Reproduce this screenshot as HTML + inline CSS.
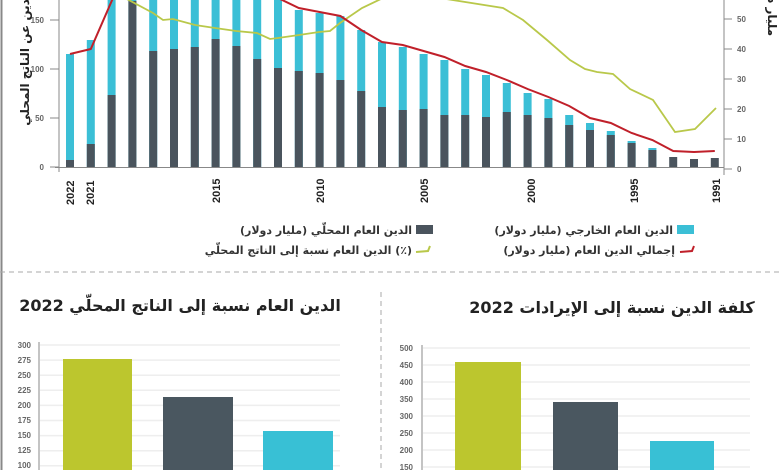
<!DOCTYPE html>
<html><head><meta charset="utf-8"><style>
html,body{margin:0;padding:0;background:#fff;}
svg{display:block;font-family:"Liberation Sans","DejaVu Sans",sans-serif;}
.t{font-size:8px;fill:#666;font-weight:bold;}
.y{font-size:11px;font-weight:bold;fill:#222;}
.ar{font-family:"DejaVu Sans","Noto Sans CJK SC",sans-serif;}
</style></head><body>
<svg width="780" height="470" viewBox="0 0 780 470" xmlns="http://www.w3.org/2000/svg">
<line x1="1.5" y1="0" x2="1.5" y2="470" stroke="#888" stroke-width="2"/>
<g fill="#3bbfd6">
<rect x="66" y="54" width="8" height="113"/>
<rect x="86.8" y="40" width="8" height="127"/>
<rect x="107.6" y="0" width="8" height="167"/>
<rect x="128.4" y="0" width="8" height="167"/>
<rect x="149.2" y="0" width="8" height="167"/>
<rect x="170" y="0" width="8" height="167"/>
<rect x="190.8" y="0" width="8" height="167"/>
<rect x="211.6" y="0" width="8" height="167"/>
<rect x="232.4" y="0" width="8" height="167"/>
<rect x="253.2" y="0" width="8" height="167"/>
<rect x="274" y="0" width="8" height="167"/>
<rect x="294.8" y="10" width="8" height="157"/>
<rect x="315.6" y="13" width="8" height="154"/>
<rect x="336.4" y="16" width="8" height="151"/>
<rect x="357.2" y="30" width="8" height="137"/>
<rect x="378" y="42" width="8" height="125"/>
<rect x="398.8" y="47" width="8" height="120"/>
<rect x="419.6" y="54" width="8" height="113"/>
<rect x="440.4" y="60" width="8" height="107"/>
<rect x="461.2" y="69" width="8" height="98"/>
<rect x="482" y="75" width="8" height="92"/>
<rect x="502.8" y="83" width="8" height="84"/>
<rect x="523.6" y="93" width="8" height="74"/>
<rect x="544.4" y="99" width="8" height="68"/>
<rect x="565.2" y="115" width="8" height="52"/>
<rect x="586" y="123" width="8" height="44"/>
<rect x="606.8" y="131" width="8" height="36"/>
<rect x="627.6" y="141" width="8" height="26"/>
<rect x="648.4" y="148" width="8" height="19"/>
</g>
<g fill="#4a545d">
<rect x="66" y="160" width="8" height="7"/>
<rect x="86.8" y="144" width="8" height="23"/>
<rect x="107.6" y="95" width="8" height="72"/>
<rect x="128.4" y="1" width="8" height="166"/>
<rect x="149.2" y="51" width="8" height="116"/>
<rect x="170" y="49" width="8" height="118"/>
<rect x="190.8" y="47" width="8" height="120"/>
<rect x="211.6" y="39" width="8" height="128"/>
<rect x="232.4" y="46" width="8" height="121"/>
<rect x="253.2" y="59" width="8" height="108"/>
<rect x="274" y="68" width="8" height="99"/>
<rect x="294.8" y="71" width="8" height="96"/>
<rect x="315.6" y="73" width="8" height="94"/>
<rect x="336.4" y="80" width="8" height="87"/>
<rect x="357.2" y="91" width="8" height="76"/>
<rect x="378" y="107" width="8" height="60"/>
<rect x="398.8" y="110" width="8" height="57"/>
<rect x="419.6" y="109" width="8" height="58"/>
<rect x="440.4" y="115" width="8" height="52"/>
<rect x="461.2" y="115" width="8" height="52"/>
<rect x="482" y="117" width="8" height="50"/>
<rect x="502.8" y="112" width="8" height="55"/>
<rect x="523.6" y="115" width="8" height="52"/>
<rect x="544.4" y="118" width="8" height="49"/>
<rect x="565.2" y="125" width="8" height="42"/>
<rect x="586" y="130" width="8" height="37"/>
<rect x="606.8" y="135" width="8" height="32"/>
<rect x="627.6" y="143" width="8" height="24"/>
<rect x="648.4" y="150" width="8" height="17"/>
<rect x="669.2" y="157" width="8" height="10"/>
<rect x="690" y="159" width="8" height="8"/>
<rect x="710.8" y="158" width="8" height="9"/>
</g>
<polyline fill="none" stroke="#b9c84a" stroke-width="1.8" points="125,-2 153,13 163,20 173,19 195,25 215,28 236,31 257,33 270,39 278,38 299,35 319,32 330,31 340,23 362,8 383,-2 440,-2 503,8 523,20 547,40 570,60 585,69 597,72 613,74 630,89 653,100 675,132 695,129 716,108"/>
<polyline fill="none" stroke="#c0202a" stroke-width="2" points="70,54 90.8,49 113,-2 278,-2 298.8,8 319.6,12 340.4,16 361.2,30 382,42 402.8,45 423.6,51 444.4,57 465.2,66 486,72 506.8,80 527.6,89 548.4,97 569.2,106 590,118 610.8,123 631.6,133 652.4,140 673.2,151 694,152 714.8,151"/>
<!-- axes -->
<line x1="59" y1="0" x2="59" y2="172" stroke="#888"/>
<line x1="55" y1="167.5" x2="724" y2="167.5" stroke="#888"/>
<line x1="724" y1="0" x2="724" y2="175" stroke="#888"/>
<g class="t" text-anchor="end">
<text x="44" y="170">0</text><line x1="50" y1="167" x2="59" y2="167" stroke="#888"/>
<text x="44" y="121">50</text><line x1="50" y1="118" x2="59" y2="118" stroke="#888"/>
<text x="44" y="72">100</text><line x1="50" y1="69" x2="59" y2="69" stroke="#888"/>
<text x="44" y="23">150</text><line x1="50" y1="20" x2="59" y2="20" stroke="#888"/>
</g>
<g class="t">
<text x="737" y="172">0</text><line x1="724" y1="169" x2="732" y2="169" stroke="#888"/>
<text x="737" y="142">10</text><line x1="724" y1="139" x2="732" y2="139" stroke="#888"/>
<text x="737" y="112">20</text><line x1="724" y1="109" x2="732" y2="109" stroke="#888"/>
<text x="737" y="82">30</text><line x1="724" y1="79" x2="732" y2="79" stroke="#888"/>
<text x="737" y="52">40</text><line x1="724" y1="49" x2="732" y2="49" stroke="#888"/>
<text x="737" y="22">50</text><line x1="724" y1="19" x2="732" y2="19" stroke="#888"/>
</g>
<text class="ar" transform="translate(29,30) rotate(-90)" text-anchor="middle" font-size="12" font-weight="bold" fill="#222">نسبة الدين عن الناتج المحلي (٪)</text>
<text class="ar" transform="translate(768,5) rotate(90)" text-anchor="middle" font-size="12" font-weight="bold" fill="#222">مليار دولار</text>
<g class="y">
<text transform="translate(74,205) rotate(-90)">2022</text>
<text transform="translate(94,205) rotate(-90)">2021</text>
<text transform="translate(220,203) rotate(-90)">2015</text>
<text transform="translate(324,203) rotate(-90)">2010</text>
<text transform="translate(428,203) rotate(-90)">2005</text>
<text transform="translate(535,203) rotate(-90)">2000</text>
<text transform="translate(638,203) rotate(-90)">1995</text>
<text transform="translate(720,203) rotate(-90)">1991</text>
</g>
<!-- legend -->
<g class="ar" font-size="11" font-weight="bold" fill="#333" text-anchor="end">
<rect x="677" y="225" width="17" height="9" fill="#3bbfd6"/>
<text x="673" y="234">الدين العام الخارجي (مليار دولار)</text>
<path d="M680 252 L692 251 L694 246" stroke="#c0202a" stroke-width="2" fill="none"/>
<text x="675" y="254">إجمالي الدين العام (مليار دولار)</text>
<rect x="416" y="225" width="17" height="9" fill="#4a545d"/>
<text x="412" y="234">الدين العام المحلّي (مليار دولار)</text>
<path d="M416 252 L428 251 L430 246" stroke="#b9c84a" stroke-width="2" fill="none"/>
<text x="412" y="254">الدين العام نسبة إلى الناتج المحلّي (٪)</text>
</g>
<line x1="0" y1="272" x2="780" y2="272" stroke="#aaa" stroke-dasharray="5,4"/>
<line x1="381" y1="292" x2="381" y2="470" stroke="#aaa" stroke-dasharray="5,4"/>
<!-- bottom left -->
<text class="ar" x="180" y="311" text-anchor="middle" font-size="16" font-weight="bold" fill="#222">الدين العام نسبة إلى الناتج المحلّي  2022</text>
<g stroke="#eee" stroke-width="1.5">
<line x1="40" y1="345" x2="340" y2="345"/><line x1="40" y1="360.1" x2="340" y2="360.1"/><line x1="40" y1="375.2" x2="340" y2="375.2"/><line x1="40" y1="390.3" x2="340" y2="390.3"/><line x1="40" y1="405.4" x2="340" y2="405.4"/><line x1="40" y1="420.5" x2="340" y2="420.5"/><line x1="40" y1="435.6" x2="340" y2="435.6"/><line x1="40" y1="450.7" x2="340" y2="450.7"/><line x1="40" y1="465.8" x2="340" y2="465.8"/>
<line x1="423" y1="348" x2="750" y2="348"/><line x1="423" y1="365" x2="750" y2="365"/><line x1="423" y1="382" x2="750" y2="382"/><line x1="423" y1="399" x2="750" y2="399"/><line x1="423" y1="416" x2="750" y2="416"/><line x1="423" y1="433" x2="750" y2="433"/><line x1="423" y1="450" x2="750" y2="450"/><line x1="423" y1="467" x2="750" y2="467"/>
</g>
<line x1="39" y1="342" x2="39" y2="470" stroke="#888"/>
<line x1="422" y1="345" x2="422" y2="470" stroke="#888"/>
<g class="t" text-anchor="end">
<text x="31" y="348">300</text><text x="31" y="363">275</text><text x="31" y="378">250</text><text x="31" y="393">225</text><text x="31" y="408">200</text><text x="31" y="423">175</text><text x="31" y="438">150</text><text x="31" y="453">125</text><text x="31" y="468">100</text>
<text x="413" y="351">500</text><text x="413" y="368">450</text><text x="413" y="385">400</text><text x="413" y="402">350</text><text x="413" y="419">300</text><text x="413" y="436">250</text><text x="413" y="453">200</text><text x="413" y="470">150</text>
</g>
<rect x="63" y="359" width="69" height="111" fill="#bcc62e"/>
<rect x="163" y="397" width="70" height="73" fill="#4a5760"/>
<rect x="263" y="431" width="70" height="39" fill="#38c0d5"/>
<text class="ar" x="612" y="313" text-anchor="middle" font-size="16" font-weight="bold" fill="#222">كلفة الدين نسبة إلى الإيرادات  2022</text>
<rect x="455" y="362" width="66" height="108" fill="#bcc62e"/>
<rect x="553" y="402" width="65" height="68" fill="#4a5760"/>
<rect x="650" y="441" width="64" height="29" fill="#38c0d5"/>
</svg>
</body></html>
